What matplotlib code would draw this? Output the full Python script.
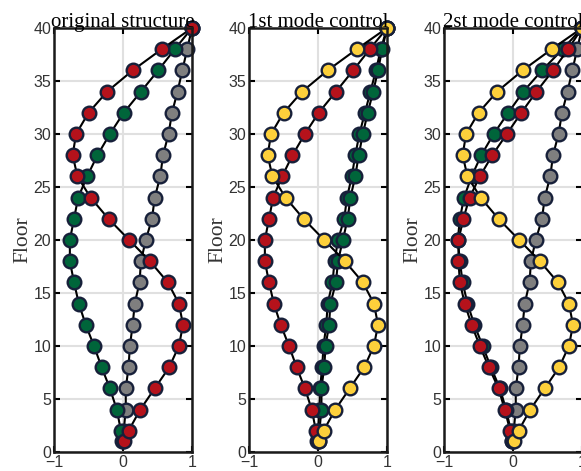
"""
Mode shapes of the 40-storey frame: original structure vs. the two
controlled cases (1st mode control, 2nd mode control).
"""

import matplotlib
matplotlib.use("Agg")
import matplotlib.pyplot as plt

FLOORS = [1, 2, 4, 6, 8, 10, 12, 14, 16, 18, 20, 22, 24, 26, 28, 30, 32, 34, 36, 38, 40]

# original mode shapes (normalised to the roof)
MODE1 = [0.005, 0.01, 0.04, 0.04, 0.08, 0.10, 0.14, 0.17, 0.24, 0.26, 0.33,
         0.42, 0.46, 0.54, 0.58, 0.66, 0.71, 0.79, 0.86, 0.93, 1.0]
MODE2 = [-0.01, -0.03, -0.09, -0.19, -0.31, -0.42, -0.54, -0.64, -0.71, -0.77, -0.77,
         -0.71, -0.65, -0.52, -0.37, -0.19, 0.01, 0.26, 0.51, 0.75, 1.0]
MODE3 = [0.01, 0.08, 0.25, 0.46, 0.67, 0.81, 0.87, 0.81, 0.65, 0.39, 0.09,
         -0.21, -0.47, -0.66, -0.73, -0.68, -0.50, -0.23, 0.14, 0.56, 1.0]

# 1st mode control: controlled 1st mode (two runs)
MODE1_CTRL_A = [0.0, 0.0, 0.02, 0.03, 0.06, 0.08, 0.12, 0.14, 0.21, 0.24, 0.29,
                0.38, 0.42, 0.49, 0.54, 0.60, 0.68, 0.76, 0.84, 0.91, 1.0]
MODE1_CTRL_B = [0.01, 0.02, 0.05, 0.05, 0.09, 0.11, 0.16, 0.18, 0.26, 0.29, 0.36,
                0.43, 0.47, 0.54, 0.59, 0.65, 0.72, 0.80, 0.87, 0.93, 1.0]

# 2nd mode control: controlled 2nd mode (two runs)
MODE2_CTRL_A = [-0.01, -0.03, -0.10, -0.19, -0.32, -0.44, -0.56, -0.66, -0.73, -0.77, -0.80,
                -0.77, -0.71, -0.60, -0.46, -0.28, -0.07, 0.15, 0.42, 0.72, 1.0]
MODE2_CTRL_B = [-0.01, -0.04, -0.12, -0.21, -0.35, -0.48, -0.60, -0.70, -0.77, -0.79, -0.79,
                -0.72, -0.63, -0.48, -0.30, -0.09, 0.12, 0.34, 0.58, 0.80, 1.0]

TITLES = ["original structure", "1st mode control", "2st mode control"]

RED = "#b5121b"
GREEN = "#00653a"
GREY = "#7f7f7f"
YELLOW = "#fdd03b"
EDGE = "#17203a"

PANELS = [
    [(MODE1, GREY), (MODE2, GREEN), (MODE3, RED)],
    [(MODE1_CTRL_A, GREEN), (MODE1_CTRL_B, GREEN), (MODE2, RED), (MODE3, YELLOW)],
    [(MODE1, GREY), (MODE2_CTRL_A, GREEN), (MODE2_CTRL_B, RED), (MODE3, YELLOW)],
]


def draw_panel(ax, series, title):
    for values, color in series:
        ax.plot(values, FLOORS, "-o", color="black", lw=1.5,
                markerfacecolor=color, markeredgecolor=EDGE,
                markeredgewidth=1.7, markersize=9.8, clip_on=False)

    ax.set_xlim(-1, 1)
    ax.set_ylim(0, 40)
    ax.set_xticks([-1, 0, 1])
    ax.set_yticks(range(0, 41, 5))
    ax.grid(True, color="#e0e0e0", lw=1.5)
    ax.set_axisbelow(True)
    ax.tick_params(direction="in", top=True, right=True, length=4, width=1.5,
                   labelsize=11.5, labelcolor="#333333", pad=2)
    for spine in ax.spines.values():
        spine.set_linewidth(1.8)
        spine.set_color("#1a1a1a")
    ax.set_title(title, family="Liberation Serif", fontsize=15, pad=0.5)
    ax.set_ylabel("Floor", family="Liberation Serif", fontsize=15.5, color="#333333",
                  labelpad=1)


def main():
    plt.rcParams["font.family"] = ["Liberation Sans", "DejaVu Sans"]
    fig = plt.figure(figsize=(5.81, 4.71), dpi=100)

    w, h = 138 / 581, 424 / 471
    for i, (series, title) in enumerate(zip(PANELS, TITLES)):
        ax = fig.add_axes([(54 + 195 * i) / 581, 19 / 471, w, h])
        draw_panel(ax, series, title)

    fig.savefig("out.png", dpi=100)


if __name__ == "__main__":
    main()
